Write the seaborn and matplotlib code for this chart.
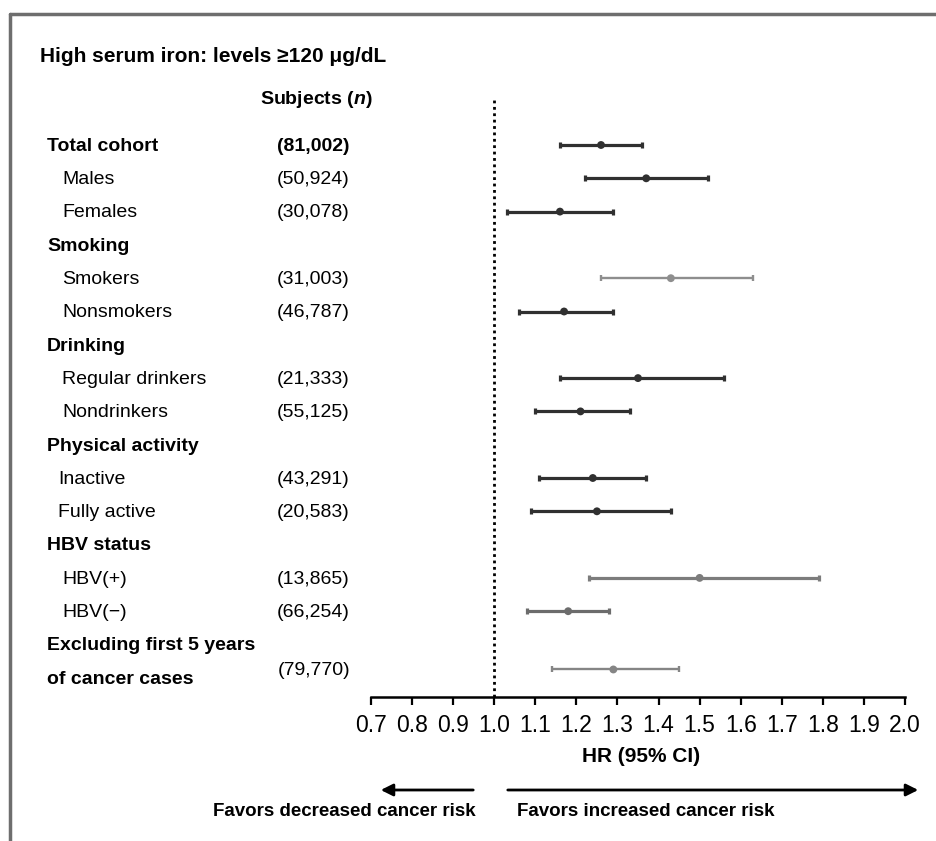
import numpy as np
import pandas as pd
import matplotlib.pyplot as plt
from matplotlib.lines import Line2D
import seaborn as sns

# Rows of the forest plot (None = section header, no estimate)
labels = ["Total cohort", "Males", "Females", "Smoking", "Smokers", "Nonsmokers",
          "Drinking", "Regular drinkers", "Nondrinkers", "Physical activity",
          "Inactive", "Fully active", "HBV status", "HBV(+)", "HBV(\u2212)",
          "Excluding first 5 years", "of cancer cases"]
subjects = ["(81,002)", "(50,924)", "(30,078)", None, "(31,003)", "(46,787)",
            None, "(21,333)", "(55,125)", None, "(43,291)", "(20,583)",
            None, "(13,865)", "(66,254)", None, "(79,770)"]
hr = [1.26, 1.37, 1.16, None, 1.43, 1.17, None, 1.35, 1.21, None,
      1.24, 1.25, None, 1.50, 1.18, None, 1.29]
ci_low = [1.16, 1.22, 1.03, None, 1.26, 1.06, None, 1.16, 1.10, None,
          1.11, 1.09, None, 1.23, 1.08, None, 1.14]
ci_high = [1.36, 1.52, 1.29, None, 1.63, 1.29, None, 1.56, 1.33, None,
           1.37, 1.43, None, 1.79, 1.28, None, 1.45]
ticks = [0.7, 0.8, 0.9, 1.0, 1.1, 1.2, 1.3, 1.4, 1.5, 1.6, 1.7, 1.8, 1.9, 2.0]

# styling per row
bold_rows = {"Total cohort", "Smoking", "Drinking", "Physical activity", "HBV status",
             "Excluding first 5 years", "of cancer cases"}
indent_px = {"Inactive": 58, "Fully active": 58}
shade = {"Smokers": "#8e8e8e", "HBV(+)": "#7c7c7c", "HBV(\u2212)": "#6c6c6c",
         "of cancer cases": "#858585"}
thin = {"Smokers", "of cancer cases"}

df = pd.DataFrame({"label": labels, "n": subjects, "hr": hr, "lo": ci_low, "hi": ci_high})
df["row"] = np.arange(len(df), dtype=float)
df.loc[df.index[-1], "row"] -= 0.25  # last estimate sits between the two label lines
df["color"] = [shade.get(l, "#303030") for l in labels]

sns.set_theme(style="white")
plt.rcParams['font.family'] = ['Liberation Sans', 'DejaVu Sans']
plt.rcParams['text.color'] = 'black'
plt.rcParams['xtick.color'] = 'black'
plt.rcParams['mathtext.fontset'] = 'custom'
plt.rcParams['mathtext.it'] = 'Liberation Sans:bold:italic'

W, H = 937, 841
fig = plt.figure(figsize=(W / 100, H / 100), dpi=100)
ax = fig.add_axes([371 / W, 1 - 697 / H, 534 / W, (697 - 98) / H])

# row spacing: row i at pixel 145 + 33.3*i
step = 33.3
ax.set_ylim((697 - 145) / step, (98 - 145) / step)
ax.set_xlim(0.7, 2.0)

est = df.dropna(subset=["hr"])
for _, r in est.iterrows():
    lw = 1.7 if r["label"] in thin else 2.3
    ax.errorbar(r["hr"], r["row"], xerr=[[r["hr"] - r["lo"]], [r["hi"] - r["hr"]]],
                fmt="none", ecolor=r["color"], elinewidth=lw, capsize=2.5, capthick=lw, zorder=3)
sns.scatterplot(data=est, x="hr", y="row", hue="label", palette=dict(zip(est["label"], est["color"])),
                s=32, edgecolor="none", legend=False, ax=ax, zorder=4)

ax.axvline(1.0, color="black", lw=2, linestyle=(0, (1, 1.3)), zorder=1)

# axis styling: only bottom spine
for side in ["top", "right", "left"]:
    ax.spines[side].set_visible(False)
ax.spines["bottom"].set_color("black")
ax.spines["bottom"].set_linewidth(1.8)
ax.set_xticks(ticks)
ax.set_xticklabels([f"{t:.1f}" for t in ticks], fontsize=16.5)
ax.tick_params(axis="x", direction="out", length=6, width=1.6, color="black",
               labelcolor="black", pad=6, bottom=True)
ax.set_yticks([])
ax.set_xlabel("")
ax.set_ylabel("")
ax.grid(False)

# left-hand text columns (axes-x coordinates)
def ax_x(px):
    return (px - 371) / 534

ytr = ax.get_yaxis_transform()
nudge = 0.04
for i, r in df.iterrows():
    lab = r["label"]
    bold = lab in bold_rows
    x0 = 47 if bold else indent_px.get(lab, 62)
    ax.text(ax_x(x0), i + nudge, lab, transform=ytr, ha="left", va="center", fontsize=14,
            fontweight="bold" if bold else "normal", clip_on=False)
    if r["n"] is not None:
        ax.text(ax_x(350), r["row"] + nudge, r["n"], transform=ytr, ha="right", va="center", fontsize=14,
                fontweight="bold" if lab == "Total cohort" else "normal", clip_on=False)

fig.text(260 / W, 1 - 100 / H, "Subjects ($\\it{n}$)", ha="left", va="center",
         fontsize=14, fontweight="bold")
fig.text(40 / W, 1 - 57 / H, "High serum iron: levels \u2265120 \u03bcg/dL", ha="left", va="center",
         fontsize=15, fontweight="bold")
fig.text(641 / W, 1 - 757 / H, "HR (95% CI)", ha="center", va="center", fontsize=15, fontweight="bold")

# direction arrows
fig.add_artist(plt.Annotation("", xy=(378 / W, 1 - 790 / H), xytext=(476 / W, 1 - 790 / H),
                              xycoords="figure fraction",
                              arrowprops=dict(arrowstyle="-|>", color="black", lw=2, mutation_scale=18)))
fig.add_artist(plt.Annotation("", xy=(921 / W, 1 - 790 / H), xytext=(505 / W, 1 - 790 / H),
                              xycoords="figure fraction",
                              arrowprops=dict(arrowstyle="-|>", color="black", lw=2, mutation_scale=18)))
fig.text(476 / W, 1 - 811 / H, "Favors decreased cancer risk", ha="right", va="center",
         fontsize=13.5, fontweight="bold")
fig.text(517 / W, 1 - 811 / H, "Favors increased cancer risk", ha="left", va="center",
         fontsize=13.5, fontweight="bold")

# grey frame (top and left edges)
fig.add_artist(Line2D([10 / W, 1.0], [1 - 14 / H, 1 - 14 / H], color="#6e6e6e", lw=2.5))
fig.add_artist(Line2D([10 / W, 10 / W], [1 - 14 / H, 0.0], color="#6e6e6e", lw=2.5))

fig.savefig("out.png", dpi=100)
